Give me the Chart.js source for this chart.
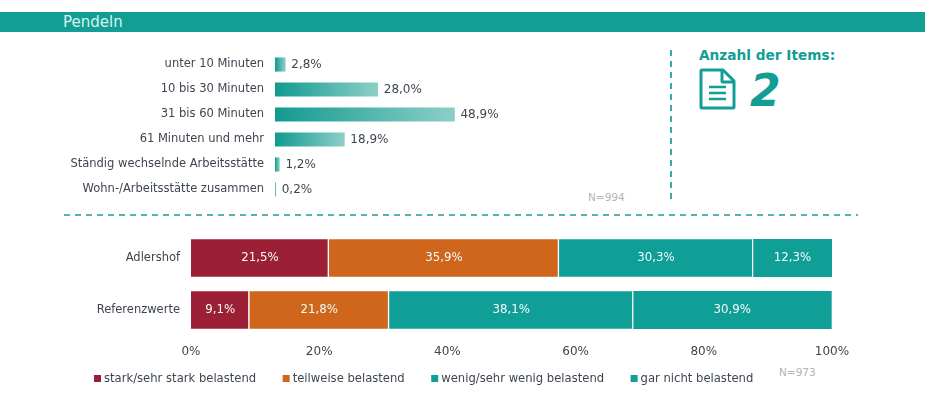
<!DOCTYPE html>
<html lang="de">
<head>
<meta charset="utf-8">
<title>Pendeln</title>
<script src="https://cdn.jsdelivr.net/npm/chart.js@4"></script>
<style>
    html, body { margin: 0; padding: 0; background: #fff; }
    body { position: relative; width: 925px; height: 402px; overflow: hidden; font-family: "DejaVu Sans", sans-serif; }
    canvas, svg, .text { position: absolute; }
    .band { position: absolute; left: 0; top: 12px; width: 925px; height: 20px; background: #129e95; }
    .band span { position: absolute; left: 63px; top: 1px; font-size: 15px; line-height: 19px; color: #d8f3ee; }
    .n { color: #b4b4b4; font-size: 10.5px; line-height: 12px; }
    .items { left: 699px; top: 47px; color: #129e95; font-size: 13.7px; line-height: 16px; font-weight: bold; }
    .count { left: 750px; top: 66px; color: #129e95; font-size: 44px; line-height: 50px; font-weight: bold; font-style: italic; }
</style>
</head>
<body>
<div class="band"><span>Pendeln</span></div>

<svg style="left:0;top:0" width="925" height="402">
    <line x1="671" y1="50" x2="671" y2="204" stroke="#1a9d96" stroke-width="1.7" stroke-dasharray="6 5"/>
    <line x1="64" y1="215" x2="858" y2="215" stroke="#1a9d96" stroke-width="1.7" stroke-dasharray="6 5"/>
    <g fill="none" stroke="#129e95" stroke-width="3" stroke-linejoin="round">
        <path d="M702 70 h21 l11 11 v26 a1 1 0 0 1 -1 1 h-31 a1 1 0 0 1 -1 -1 v-36 a1 1 0 0 1 1 -1 z"/>
        <path d="M722 70 v11 a1 1 0 0 0 1 1 h11"/>
        <path d="M709 87 h17 M709 93 h17 M709 99 h17" stroke-width="2.5"/>
    </g>
</svg>

<div class="text items">Anzahl der Items:</div>
<div class="text count">2</div>
<div class="text n" style="left:588px;top:191px">N=994</div>
<div class="text n" style="left:779px;top:366px">N=973</div>

<canvas id="pendelChart" style="left:0;top:52px"></canvas>
<canvas id="belastungChart" style="left:0;top:232px"></canvas>

<script>
const pendelLabels = ["unter 10 Minuten", "10 bis 30 Minuten", "31 bis 60 Minuten", "61 Minuten und mehr", "Ständig wechselnde Arbeitsstätte", "Wohn-/Arbeitsstätte zusammen"];
const pendelValues = [2.8, 28.0, 48.9, 18.9, 1.2, 0.2];

const orte = ["Adlershof", "Referenzwerte"];
const starkBelastend = [21.5, 9.1];
const teilweiseBelastend = [35.9, 21.8];
const wenigBelastend = [30.3, 38.1];
const garNichtBelastend = [12.3, 30.9];
const prozentTicks = [0, 20, 40, 60, 80, 100];

const textColor = "#3d4650";
const fontFamily = "'DejaVu Sans', sans-serif";
const labelFont = { family: fontFamily, size: 11.5 };
const percent = (v) => v.toFixed(1).replace(".", ",") + "%";

Chart.defaults.animation = false;
Chart.defaults.responsive = false;
Chart.defaults.color = textColor;
Chart.defaults.font.family = fontFamily;
Chart.defaults.font.size = 12;

// prints the value next to (top chart) or inside (bottom chart) each bar
const valueLabels = {
    id: "valueLabels",
    afterDatasetsDraw(chart, args, opts) {
        const { ctx } = chart;
        ctx.save();
        ctx.font = `${opts.inside ? 11.8 : 12}px ${fontFamily}`;
        ctx.textBaseline = "middle";
        chart.data.datasets.forEach((ds, i) => {
            chart.getDatasetMeta(i).data.forEach((bar, j) => {
                const text = percent(ds.data[j]);
                if (opts.inside) {
                    ctx.fillStyle = "#f4fbfa";
                    ctx.textAlign = "center";
                    ctx.fillText(text, (bar.base + bar.x) / 2, bar.y);
                } else {
                    ctx.fillStyle = textColor;
                    ctx.textAlign = "left";
                    ctx.fillText(text, bar.x + 6, bar.y + 0.5);
                }
            });
        });
        ctx.restore();
    },
};

// the built-in legend ties row spacing to item spacing, this one does not
const bottomLegend = {
    id: "bottomLegend",
    afterDraw(chart, args, opts) {
        const { ctx } = chart;
        let x = opts.x;
        ctx.save();
        ctx.font = `11.6px ${fontFamily}`;
        ctx.textBaseline = "middle";
        ctx.textAlign = "left";
        chart.data.datasets.forEach((ds) => {
            ctx.fillStyle = ds.backgroundColor;
            ctx.fillRect(x, opts.y - 3.5, 7, 7);
            ctx.fillStyle = textColor;
            ctx.fillText(ds.label, x + 10, opts.y);
            x += 10 + ctx.measureText(ds.label).width + opts.gap;
        });
        ctx.restore();
    },
};

const barGradient = (context) => {
    const { chart } = context;
    const x0 = chart.scales.x ? chart.scales.x.getPixelForValue(0) : NaN;
    const x1 = chart.scales.x && context.type === "data" ? chart.scales.x.getPixelForValue(context.raw) : NaN;
    if (!Number.isFinite(x0) || !Number.isFinite(x1)) return "#129e95";
    const gradient = chart.ctx.createLinearGradient(x0, 0, x1, 0);
    gradient.addColorStop(0, "#129a90");
    gradient.addColorStop(1, "#8ccfc7");
    return gradient;
};

// fixed axis width, and no extra room for the tick label padding
const fitCategoryAxis = (width) => (scale) => {
    scale.width = width;
    scale.paddingTop = 0;
    scale.paddingBottom = 0;
};

const pendelCanvas = document.getElementById("pendelChart");
pendelCanvas.width = 925;
pendelCanvas.height = 150;
new Chart(pendelCanvas, {
    type: "bar",
    data: {
        labels: pendelLabels,
        datasets: [{ data: pendelValues, backgroundColor: barGradient, barThickness: 13.5 }],
    },
    options: {
        indexAxis: "y",
        layout: { padding: { right: 283 } },
        plugins: { legend: { display: false }, tooltip: { enabled: false }, valueLabels: { inside: false } },
        scales: {
            x: { display: false, min: 0, max: 100 },
            y: {
                grid: { display: false, drawTicks: false },
                border: { display: false },
                ticks: { padding: 11, font: labelFont },
                afterFit: fitCategoryAxis(275),
            },
        },
    },
    plugins: [valueLabels],
});

const segment = (label, data, color, separator) => ({
    label,
    data,
    backgroundColor: color,
    borderColor: "#ffffff",
    borderWidth: { right: separator },
    barThickness: 37.5,
});

const belastungCanvas = document.getElementById("belastungChart");
belastungCanvas.width = 925;
belastungCanvas.height = 170;
new Chart(belastungCanvas, {
    type: "bar",
    data: {
        labels: orte,
        datasets: [
            segment("stark/sehr stark belastend", starkBelastend, "#9b2035", 1.5),
            segment("teilweise belastend", teilweiseBelastend, "#cf661c", 1.5),
            segment("wenig/sehr wenig belastend", wenigBelastend, "#109f96", 1.5),
            segment("gar nicht belastend", garNichtBelastend, "#109f96", 0),
        ],
    },
    options: {
        indexAxis: "y",
        layout: { padding: { right: 93, bottom: 38 } },
        plugins: {
            legend: { display: false },
            tooltip: { enabled: false },
            valueLabels: { inside: true },
            bottomLegend: { x: 94, y: 146.5, gap: 26.5 },
        },
        scales: {
            x: {
                stacked: true,
                min: 0,
                max: 100,
                grid: { display: false, drawTicks: false },
                border: { display: false },
                afterBuildTicks: (scale) => { scale.ticks = prozentTicks.map((value) => ({ value })); },
                ticks: { padding: 9, autoSkip: false, maxRotation: 0, callback: (v) => v + "%" },
                afterFit: (scale) => {
                    scale.height = 28;
                    scale.paddingLeft = 0;
                    scale.paddingRight = 0;
                },
            },
            y: {
                stacked: true,
                grid: { display: false, drawTicks: false },
                border: { display: false },
                ticks: { padding: 11, font: labelFont },
                afterFit: fitCategoryAxis(191),
            },
        },
    },
    plugins: [valueLabels, bottomLegend],
});
</script>
</body>
</html>
